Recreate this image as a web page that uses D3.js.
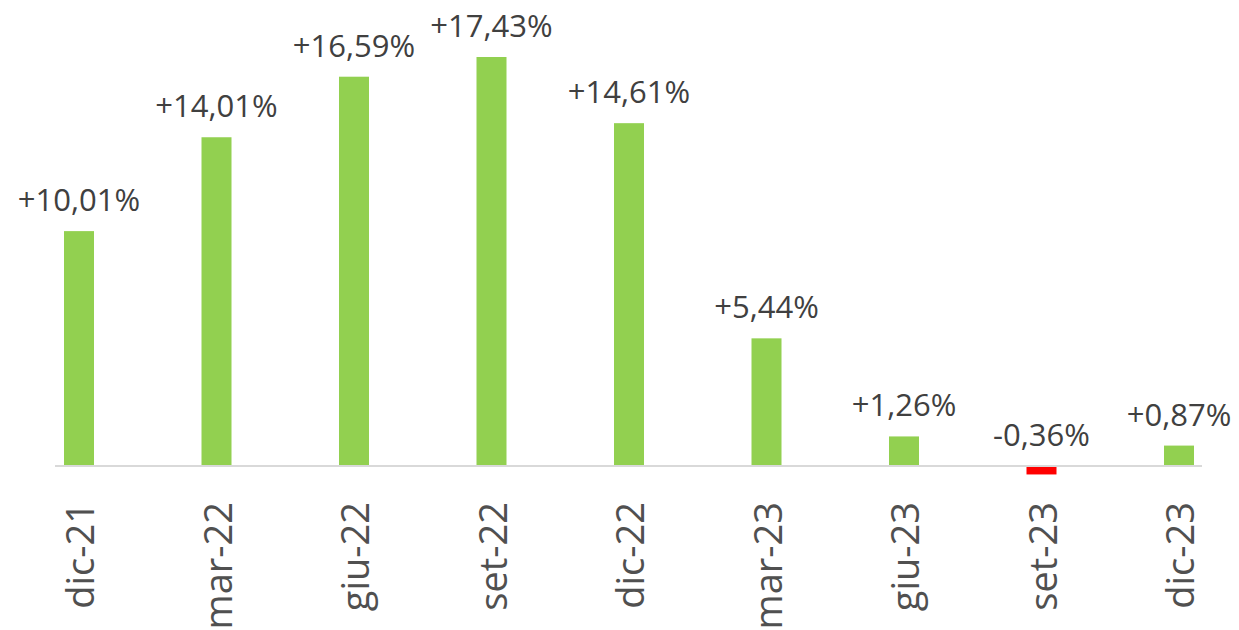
<!DOCTYPE html>
<html lang="it">
<head>
    <meta charset="UTF-8">
    <title>Variazione percentuale</title>
    <script src="https://d3js.org/d3.v7.min.js"></script>
    <style>
        body {
            margin: 0;
            background: #fff;
            font-family: "Open Sans", sans-serif;
        }
        .value {
            font-size: 31px;
            fill: #404040;
        }
        .tick-label {
            font-size: 38px;
            fill: #505050;
        }
    </style>
</head>
<body>
    <svg width="1239" height="630"></svg>

    <script>
        const categories = ["dic-21", "mar-22", "giu-22", "set-22", "dic-22", "mar-23", "giu-23", "set-23", "dic-23"];
        const values = [10.01, 14.01, 16.59, 17.43, 14.61, 5.44, 1.26, -0.36, 0.87];

        const data = categories.map((c, i) => ({ cat: c, value: values[i] }));

        const svg = d3.select("svg");

        const x = d3.scalePoint()
            .domain(categories)
            .range([79, 1179]);

        const y = d3.scaleLinear()
            .domain([0, 17.43])
            .range([466, 57]);

        const barWidth = 30;
        const fmt = v => (v > 0 ? "+" : "") + v.toFixed(2).replace(".", ",") + "%";

        // bars
        svg.selectAll("rect.bar")
            .data(data)
            .join("rect")
            .attr("class", "bar")
            .attr("x", d => x(d.cat) - barWidth / 2)
            .attr("y", d => y(Math.max(0, d.value)))
            .attr("width", barWidth)
            .attr("height", d => Math.abs(y(d.value) - y(0)))
            .attr("fill", d => d.value < 0 ? "#ff0000" : "#92d050");

        // baseline
        svg.append("line")
            .attr("x1", x(categories[0]) - 24)
            .attr("x2", x(categories[categories.length - 1]) + 23)
            .attr("y1", y(0))
            .attr("y2", y(0))
            .attr("stroke", "#d9d9d9")
            .attr("stroke-width", 2);

        // value labels
        svg.selectAll("text.value")
            .data(data)
            .join("text")
            .attr("class", "value")
            .attr("text-anchor", "middle")
            .attr("x", d => x(d.cat))
            .attr("y", d => y(Math.max(0, d.value)) - 20)
            .text(d => fmt(d.value));

        // category labels
        svg.selectAll("text.tick-label")
            .data(categories)
            .join("text")
            .attr("class", "tick-label")
            .attr("text-anchor", "end")
            .attr("transform", d => `translate(${x(d) + 15},${y(0) + 36}) rotate(-90)`)
            .text(d => d);
    </script>
</body>
</html>
